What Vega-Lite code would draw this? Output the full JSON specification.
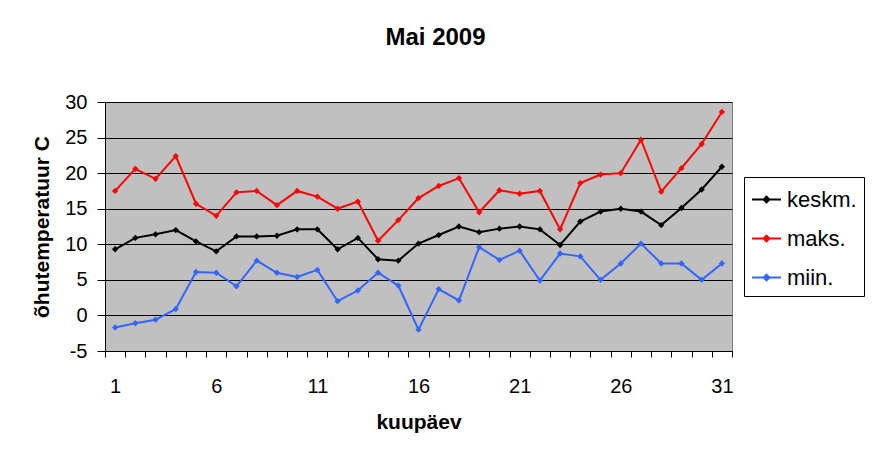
{
  "$schema": "https://vega.github.io/schema/vega-lite/v6.json",
  "autosize": "none",
  "width": 627,
  "height": 249,
  "padding": {"left": 105, "top": 102, "right": 141, "bottom": 113},
  "background": "white",
  "title": {
    "text": "Mai 2009",
    "font": "Liberation Sans",
    "fontSize": 24,
    "fontWeight": "bold",
    "color": "black",
    "anchor": "middle",
    "offset": 42,
    "dx": 17
  },
  "data": {
    "values": [
      {"day": 1, "series": "keskm.", "value": 9.3},
      {"day": 2, "series": "keskm.", "value": 10.9},
      {"day": 3, "series": "keskm.", "value": 11.4},
      {"day": 4, "series": "keskm.", "value": 12.0},
      {"day": 5, "series": "keskm.", "value": 10.4},
      {"day": 6, "series": "keskm.", "value": 9.0},
      {"day": 7, "series": "keskm.", "value": 11.1},
      {"day": 8, "series": "keskm.", "value": 11.1},
      {"day": 9, "series": "keskm.", "value": 11.2},
      {"day": 10, "series": "keskm.", "value": 12.1},
      {"day": 11, "series": "keskm.", "value": 12.1},
      {"day": 12, "series": "keskm.", "value": 9.3},
      {"day": 13, "series": "keskm.", "value": 10.9},
      {"day": 14, "series": "keskm.", "value": 7.9},
      {"day": 15, "series": "keskm.", "value": 7.7},
      {"day": 16, "series": "keskm.", "value": 10.1},
      {"day": 17, "series": "keskm.", "value": 11.3},
      {"day": 18, "series": "keskm.", "value": 12.5},
      {"day": 19, "series": "keskm.", "value": 11.7},
      {"day": 20, "series": "keskm.", "value": 12.2},
      {"day": 21, "series": "keskm.", "value": 12.5},
      {"day": 22, "series": "keskm.", "value": 12.1},
      {"day": 23, "series": "keskm.", "value": 9.9},
      {"day": 24, "series": "keskm.", "value": 13.2},
      {"day": 25, "series": "keskm.", "value": 14.6},
      {"day": 26, "series": "keskm.", "value": 15.0},
      {"day": 27, "series": "keskm.", "value": 14.6},
      {"day": 28, "series": "keskm.", "value": 12.7},
      {"day": 29, "series": "keskm.", "value": 15.1},
      {"day": 30, "series": "keskm.", "value": 17.7},
      {"day": 31, "series": "keskm.", "value": 20.9},
      {"day": 1, "series": "maks.", "value": 17.5},
      {"day": 2, "series": "maks.", "value": 20.6},
      {"day": 3, "series": "maks.", "value": 19.2},
      {"day": 4, "series": "maks.", "value": 22.4},
      {"day": 5, "series": "maks.", "value": 15.7},
      {"day": 6, "series": "maks.", "value": 14.0},
      {"day": 7, "series": "maks.", "value": 17.3},
      {"day": 8, "series": "maks.", "value": 17.5},
      {"day": 9, "series": "maks.", "value": 15.5},
      {"day": 10, "series": "maks.", "value": 17.5},
      {"day": 11, "series": "maks.", "value": 16.7},
      {"day": 12, "series": "maks.", "value": 15.0},
      {"day": 13, "series": "maks.", "value": 16.0},
      {"day": 14, "series": "maks.", "value": 10.5},
      {"day": 15, "series": "maks.", "value": 13.4},
      {"day": 16, "series": "maks.", "value": 16.5},
      {"day": 17, "series": "maks.", "value": 18.2},
      {"day": 18, "series": "maks.", "value": 19.3},
      {"day": 19, "series": "maks.", "value": 14.5},
      {"day": 20, "series": "maks.", "value": 17.6},
      {"day": 21, "series": "maks.", "value": 17.1},
      {"day": 22, "series": "maks.", "value": 17.5},
      {"day": 23, "series": "maks.", "value": 12.1},
      {"day": 24, "series": "maks.", "value": 18.6},
      {"day": 25, "series": "maks.", "value": 19.8},
      {"day": 26, "series": "maks.", "value": 20.0},
      {"day": 27, "series": "maks.", "value": 24.7},
      {"day": 28, "series": "maks.", "value": 17.4},
      {"day": 29, "series": "maks.", "value": 20.7},
      {"day": 30, "series": "maks.", "value": 24.1},
      {"day": 31, "series": "maks.", "value": 28.6},
      {"day": 1, "series": "miin.", "value": -1.7},
      {"day": 2, "series": "miin.", "value": -1.1},
      {"day": 3, "series": "miin.", "value": -0.6},
      {"day": 4, "series": "miin.", "value": 0.9},
      {"day": 5, "series": "miin.", "value": 6.1},
      {"day": 6, "series": "miin.", "value": 6.0},
      {"day": 7, "series": "miin.", "value": 4.1},
      {"day": 8, "series": "miin.", "value": 7.7},
      {"day": 9, "series": "miin.", "value": 6.0},
      {"day": 10, "series": "miin.", "value": 5.4},
      {"day": 11, "series": "miin.", "value": 6.4},
      {"day": 12, "series": "miin.", "value": 2.0},
      {"day": 13, "series": "miin.", "value": 3.5},
      {"day": 14, "series": "miin.", "value": 6.0},
      {"day": 15, "series": "miin.", "value": 4.2},
      {"day": 16, "series": "miin.", "value": -2.0},
      {"day": 17, "series": "miin.", "value": 3.7},
      {"day": 18, "series": "miin.", "value": 2.1},
      {"day": 19, "series": "miin.", "value": 9.6},
      {"day": 20, "series": "miin.", "value": 7.8},
      {"day": 21, "series": "miin.", "value": 9.1},
      {"day": 22, "series": "miin.", "value": 4.9},
      {"day": 23, "series": "miin.", "value": 8.7},
      {"day": 24, "series": "miin.", "value": 8.3},
      {"day": 25, "series": "miin.", "value": 5.0},
      {"day": 26, "series": "miin.", "value": 7.3},
      {"day": 27, "series": "miin.", "value": 10.1},
      {"day": 28, "series": "miin.", "value": 7.3},
      {"day": 29, "series": "miin.", "value": 7.3},
      {"day": 30, "series": "miin.", "value": 5.0},
      {"day": 31, "series": "miin.", "value": 7.3}
    ]
  },
  "mark": {
    "type": "line",
    "strokeWidth": 2,
    "point": {"shape": "diamond", "size": 40, "filled": true}
  },
  "encoding": {
    "x": {
      "field": "day",
      "type": "ordinal",
      "title": "kuupäev",
      "scale": {"type": "band", "paddingInner": 0, "paddingOuter": 0},
      "axis": {
        "tickBand": "extent",
        "labelExpr": "(datum.value - 1) % 5 == 0 ? datum.label : ''",
        "labelOverlap": false,
        "labelAngle": 0,
        "labelFont": "Liberation Sans",
        "labelFontSize": 20,
        "labelColor": "black",
        "labelPadding": 19,
        "tickSize": 6,
        "tickColor": "black",
        "domainColor": "black",
        "grid": false,
        "titleFont": "Liberation Sans",
        "titleFontSize": 21,
        "titleFontWeight": "bold",
        "titleColor": "black",
        "titlePadding": 15
      }
    },
    "y": {
      "field": "value",
      "type": "quantitative",
      "title": "õhutemperatuur C",
      "scale": {"domain": [-5, 30], "nice": false, "zero": false},
      "axis": {
        "values": [-5, 0, 5, 10, 15, 20, 25, 30],
        "labelExpr": "'' + datum.value",
        "labelFont": "Liberation Sans",
        "labelFontSize": 20,
        "labelColor": "black",
        "labelPadding": 10,
        "tickSize": 8,
        "tickColor": "black",
        "domainColor": "black",
        "grid": true,
        "gridColor": "black",
        "gridOpacity": 1,
        "titleFont": "Liberation Sans",
        "titleFontSize": 21,
        "titleFontWeight": "bold",
        "titleColor": "black",
        "titlePadding": 12
      }
    },
    "color": {
      "field": "series",
      "type": "nominal",
      "scale": {
        "domain": ["keskm.", "maks.", "miin."],
        "range": ["#000000", "#ff0000", "#3366ff"]
      },
      "legend": {
        "title": null,
        "orient": "none",
        "legendX": 639,
        "legendY": 75,
        "fillColor": "white",
        "strokeColor": "black",
        "padding": 7,
        "rowPadding": 12,
        "labelFont": "Liberation Sans",
        "labelFontSize": 22,
        "labelColor": "black",
        "labelOffset": 5,
        "symbolType": "M-1,0H1M0,-0.2L0.2,0L0,0.2L-0.2,0Z",
        "symbolSize": 841,
        "symbolStrokeWidth": 2
      }
    }
  },
  "config": {
    "view": {"fill": "#c0c0c0", "stroke": "#808080", "strokeWidth": 1}
  }
}
